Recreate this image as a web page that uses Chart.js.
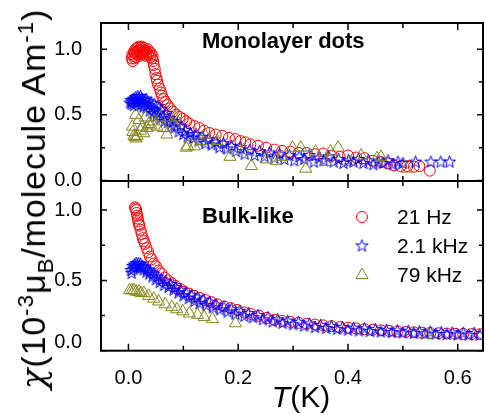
<!DOCTYPE html>
<html lang="en">
<head>
<meta charset="UTF-8">
<title>AC susceptibility</title>
<script src="https://cdn.jsdelivr.net/npm/chart.js"></script>
<style>
  body { margin: 0; width: 487px; height: 414px; overflow: hidden; position: relative; background: #fff;
         font-family: Arial, "Liberation Sans", sans-serif; }
  canvas { position: absolute; left: 0; top: 0; }
  #ytitle { position: absolute; left: 33px; top: 199px; transform: translate(-50%, -50%) rotate(-90deg);
            white-space: nowrap; font-size: 34px; line-height: 1; letter-spacing: 0.9px; }
  #xtitle { position: absolute; left: 301px; top: 397px; transform: translate(-50%, -50%);
            white-space: nowrap; font-size: 30px; line-height: 1; }
  #ytitle sup, #ytitle sub { font-size: 0.66em; line-height: 0; }
  .chi { font-family: "DejaVu Serif", serif; font-style: italic; }
</style>
</head>
<body>
<canvas id="top" width="491" height="414"></canvas>
<canvas id="bottom" width="491" height="414"></canvas>
<div id="ytitle"><span class="chi">&chi;</span>(10<sup>-3</sup>&mu;<sub>B</sub>/molecule Am<sup>-1</sup>)</div>
<div id="xtitle"><i>T</i>(K)</div>
<script>
// series: [T (K), chi]
const monoRed = [[0.006,0.93],[0.007,0.96],[0.008,0.91],[0.009,0.95],[0.010,0.98],[0.011,0.93],[0.012,0.97],[0.013,1.00],[0.014,0.94],[0.015,0.98],[0.016,1.01],[0.017,0.96],[0.018,0.99],[0.019,1.02],[0.020,0.95],[0.021,0.99],[0.022,1.01],[0.023,0.97],[0.024,1.02],[0.025,0.98],[0.026,1.00],[0.027,0.96],[0.028,1.01],[0.029,0.98],[0.030,0.99],[0.032,0.95],[0.033,0.98],[0.035,1.00],[0.036,0.96],[0.038,0.98],[0.040,0.94],[0.041,0.97],[0.043,0.93],[0.044,0.95],[0.045,0.91],[0.046,0.88],[0.048,0.85],[0.049,0.81],[0.051,0.78],[0.052,0.76],[0.054,0.73],[0.057,0.70],[0.059,0.67],[0.061,0.645],[0.064,0.62],[0.067,0.60],[0.071,0.575],[0.076,0.55],[0.081,0.525],[0.087,0.50],[0.093,0.485],[0.099,0.47],[0.105,0.45],[0.111,0.435],[0.120,0.415],[0.129,0.40],[0.138,0.38],[0.147,0.362],[0.159,0.35],[0.171,0.34],[0.183,0.325],[0.195,0.315],[0.204,0.30],[0.213,0.29],[0.222,0.275],[0.236,0.265],[0.251,0.25],[0.266,0.235],[0.280,0.225],[0.295,0.22],[0.310,0.21],[0.325,0.21],[0.340,0.20],[0.355,0.205],[0.370,0.19],[0.385,0.18],[0.400,0.19],[0.415,0.175],[0.430,0.17],[0.445,0.15],[0.460,0.14],[0.472,0.13],[0.484,0.115],[0.496,0.11],[0.508,0.11],[0.520,0.105],[0.530,0.11],[0.549,0.075]];
const monoBlue = [[0.003,0.59],[0.005,0.61],[0.006,0.58],[0.007,0.60],[0.009,0.62],[0.010,0.57],[0.011,0.60],[0.013,0.63],[0.014,0.59],[0.015,0.61],[0.017,0.64],[0.018,0.57],[0.019,0.62],[0.021,0.60],[0.022,0.64],[0.024,0.58],[0.025,0.62],[0.027,0.56],[0.028,0.61],[0.030,0.59],[0.032,0.62],[0.033,0.55],[0.035,0.60],[0.037,0.57],[0.039,0.53],[0.041,0.59],[0.043,0.55],[0.045,0.51],[0.047,0.58],[0.049,0.53],[0.051,0.49],[0.053,0.56],[0.055,0.51],[0.058,0.47],[0.060,0.54],[0.063,0.49],[0.066,0.45],[0.069,0.51],[0.072,0.44],[0.075,0.47],[0.078,0.41],[0.081,0.45],[0.084,0.40],[0.088,0.43],[0.092,0.37],[0.096,0.41],[0.100,0.35],[0.104,0.38],[0.108,0.33],[0.113,0.36],[0.118,0.32],[0.123,0.35],[0.128,0.30],[0.134,0.33],[0.140,0.28],[0.146,0.31],[0.152,0.27],[0.159,0.29],[0.166,0.25],[0.173,0.28],[0.180,0.24],[0.188,0.26],[0.196,0.22],[0.204,0.25],[0.212,0.20],[0.221,0.23],[0.230,0.19],[0.239,0.22],[0.248,0.18],[0.257,0.21],[0.266,0.17],[0.275,0.20],[0.284,0.16],[0.293,0.19],[0.302,0.15],[0.311,0.18],[0.320,0.16],[0.329,0.19],[0.338,0.14],[0.347,0.17],[0.356,0.15],[0.365,0.18],[0.374,0.14],[0.383,0.16],[0.392,0.13],[0.401,0.15],[0.410,0.14],[0.419,0.16],[0.428,0.13],[0.437,0.15],[0.446,0.12],[0.455,0.14],[0.464,0.13],[0.473,0.15],[0.482,0.12],[0.491,0.14],[0.500,0.13],[0.523,0.14],[0.551,0.14],[0.569,0.14],[0.585,0.14]];
const monoOlive = [[0.007,0.41],[0.008,0.37],[0.010,0.34],[0.012,0.33],[0.013,0.50],[0.014,0.32],[0.016,0.34],[0.019,0.46],[0.022,0.38],[0.025,0.41],[0.028,0.36],[0.031,0.48],[0.034,0.40],[0.037,0.43],[0.041,0.42],[0.046,0.45],[0.052,0.41],[0.058,0.48],[0.064,0.40],[0.070,0.35],[0.082,0.43],[0.085,0.48],[0.088,0.40],[0.105,0.25],[0.108,0.26],[0.120,0.26],[0.132,0.30],[0.139,0.35],[0.162,0.30],[0.185,0.18],[0.210,0.23],[0.224,0.11],[0.251,0.16],[0.269,0.15],[0.280,0.18],[0.299,0.25],[0.314,0.25],[0.323,0.09],[0.341,0.22],[0.359,0.14],[0.368,0.22],[0.382,0.25],[0.403,0.14],[0.424,0.19],[0.453,0.17],[0.460,0.18],[0.507,0.09]];

const bulkRed = [[0.012,1.02],[0.013,1.01],[0.014,1.00],[0.015,0.98],[0.016,0.96],[0.017,0.94],[0.018,0.92],[0.019,0.90],[0.020,0.89],[0.022,0.86],[0.024,0.83],[0.026,0.80],[0.028,0.78],[0.030,0.76],[0.033,0.73],[0.036,0.70],[0.039,0.67],[0.042,0.65],[0.046,0.62],[0.050,0.60],[0.055,0.57],[0.060,0.55],[0.066,0.52],[0.072,0.50],[0.079,0.48],[0.086,0.46],[0.094,0.44],[0.102,0.42],[0.111,0.405],[0.120,0.39],[0.130,0.375],[0.140,0.36],[0.151,0.345],[0.162,0.33],[0.174,0.315],[0.186,0.303],[0.198,0.29],[0.211,0.272],[0.224,0.26],[0.238,0.248],[0.252,0.233],[0.266,0.22],[0.280,0.212],[0.295,0.205],[0.310,0.198],[0.325,0.192],[0.340,0.186],[0.355,0.18],[0.370,0.174],[0.385,0.168],[0.400,0.163],[0.415,0.158],[0.430,0.153],[0.445,0.149],[0.460,0.145],[0.475,0.141],[0.490,0.137],[0.505,0.134],[0.520,0.131],[0.535,0.128],[0.550,0.126],[0.565,0.124],[0.580,0.122],[0.595,0.12],[0.610,0.119],[0.625,0.118],[0.640,0.117]];
const bulkBlue = [[0.005,0.57],[0.006,0.55],[0.008,0.60],[0.009,0.58],[0.011,0.61],[0.012,0.59],[0.014,0.62],[0.016,0.60],[0.018,0.62],[0.020,0.60],[0.022,0.615],[0.024,0.59],[0.026,0.60],[0.028,0.575],[0.030,0.59],[0.033,0.56],[0.035,0.575],[0.038,0.545],[0.040,0.56],[0.044,0.525],[0.046,0.545],[0.050,0.505],[0.053,0.525],[0.057,0.485],[0.060,0.505],[0.065,0.465],[0.068,0.49],[0.073,0.45],[0.077,0.47],[0.082,0.43],[0.086,0.45],[0.091,0.41],[0.095,0.43],[0.100,0.39],[0.105,0.41],[0.110,0.37],[0.115,0.39],[0.120,0.35],[0.125,0.375],[0.130,0.335],[0.136,0.36],[0.142,0.32],[0.148,0.345],[0.154,0.305],[0.160,0.325],[0.167,0.29],[0.174,0.31],[0.181,0.275],[0.188,0.295],[0.195,0.26],[0.203,0.28],[0.211,0.245],[0.219,0.265],[0.227,0.235],[0.236,0.25],[0.245,0.22],[0.254,0.235],[0.263,0.205],[0.272,0.22],[0.281,0.195],[0.290,0.21],[0.300,0.185],[0.310,0.20],[0.320,0.175],[0.330,0.19],[0.340,0.165],[0.350,0.18],[0.360,0.158],[0.370,0.172],[0.380,0.152],[0.390,0.165],[0.400,0.146],[0.410,0.16],[0.420,0.141],[0.430,0.155],[0.440,0.137],[0.450,0.15],[0.460,0.133],[0.470,0.145],[0.480,0.129],[0.490,0.141],[0.500,0.126],[0.510,0.138],[0.520,0.123],[0.530,0.135],[0.540,0.12],[0.550,0.132],[0.560,0.117],[0.570,0.129],[0.580,0.115],[0.590,0.127],[0.600,0.113],[0.610,0.125],[0.620,0.111],[0.630,0.123],[0.640,0.11]];
const bulkOlive = [[0.002,0.43],[0.006,0.43],[0.010,0.43],[0.014,0.42],[0.019,0.42],[0.023,0.41],[0.028,0.41],[0.037,0.39],[0.046,0.37],[0.055,0.35],[0.067,0.33],[0.079,0.31],[0.088,0.295],[0.099,0.28],[0.111,0.265],[0.126,0.255],[0.138,0.24],[0.153,0.225],[0.195,0.195],[0.546,0.115]];

const seriesNames = ['21 Hz', '2.1 kHz', '79 kHz'];
const panelNames = ['Monolayer dots', 'Bulk-like'];
const xTicks = [0, 0.1, 0.2, 0.3, 0.4, 0.5, 0.6];
const xLabelled = [0, 0.2, 0.4, 0.6];
const yTicks = [0, 0.25, 0.5, 0.75, 1.0];
const yLabelled = [0, 0.5, 1.0];

const FONT = 'Arial, "Liberation Sans", sans-serif';
const RED = '#ff0000', BLUE = '#0000ff', OLIVE = '#86861a';

// 5-point open star, Origin style
function makeStar() {
    const c = document.createElement('canvas');
    c.width = 15; c.height = 15;
    const g = c.getContext('2d');
    g.strokeStyle = BLUE;
    g.lineWidth = 1;
    g.beginPath();
    for (let i = 0; i < 10; i++) {
        const r = i % 2 ? 2.6 : 6.4;
        const a = -Math.PI / 2 + i * Math.PI / 5;
        const px = 7.5 + r * Math.cos(a), py = 7.5 + r * Math.sin(a);
        if (i === 0) g.moveTo(px, py); else g.lineTo(px, py);
    }
    g.closePath();
    g.stroke();
    return c;
}
const star = makeStar();

function toXY(arr) { return arr.map(p => ({ x: p[0], y: p[1] })); }

function drawSymbol(ctx, kind, x, y) {
    ctx.lineWidth = 1;
    if (kind === 0) {
        ctx.strokeStyle = RED;
        ctx.beginPath(); ctx.arc(x, y, 5.5, 0, Math.PI * 2); ctx.stroke();
    } else if (kind === 1) {
        ctx.drawImage(star, x - 7.5, y - 7.5);
    } else {
        ctx.strokeStyle = OLIVE;
        const r = 7;
        ctx.beginPath();
        ctx.moveTo(x, y - r);
        ctx.lineTo(x + r * 0.866, y + r / 2);
        ctx.lineTo(x - r * 0.866, y + r / 2);
        ctx.closePath(); ctx.stroke();
    }
}

const framePlugin = {
    id: 'frame',
    afterDraw(chart, args, opts) {
        const { ctx, chartArea: a } = chart;
        const x = chart.scales.x, y = chart.scales.y;
        ctx.save();
        ctx.strokeStyle = '#000';
        ctx.lineWidth = 2;
        ctx.strokeRect(a.left, a.top, a.right - a.left, a.bottom - a.top);
        ctx.lineWidth = 1.5;
        ctx.beginPath();
        xTicks.forEach(v => {
            const px = x.getPixelForValue(v);
            const len = xLabelled.includes(v) ? 7 : 5;
            ctx.moveTo(px, a.bottom); ctx.lineTo(px, a.bottom - len);
            ctx.moveTo(px, a.top); ctx.lineTo(px, a.top + len);
        });
        yTicks.forEach(v => {
            const py = y.getPixelForValue(v);
            const len = yLabelled.includes(v) ? 6 : 4;
            ctx.moveTo(a.left, py); ctx.lineTo(a.left + len, py);
            ctx.moveTo(a.right, py); ctx.lineTo(a.right - len, py);
        });
        ctx.stroke();

        ctx.fillStyle = '#000';
        ctx.textBaseline = 'middle';
        ctx.textAlign = 'left';
        ctx.font = 'bold 22px ' + FONT;
        ctx.fillText(opts.title, 202, opts.titleY);

        if (opts.legend) {
            ctx.font = '21px ' + FONT;
            seriesNames.forEach((name, i) => {
                const ly = 217 + i * 29;
                drawSymbol(ctx, i, 362, ly);
                ctx.fillStyle = '#000';
                ctx.fillText(name, 397, ly + 1);
            });
        }
        ctx.restore();
    }
};

function makeChart(id, red, blue, olive, panel) {
    const isBottom = panel === 1;
    return new Chart(document.getElementById(id), {
        type: 'scatter',
        data: {
            datasets: [
                { label: seriesNames[0], data: toXY(red), order: 3, pointStyle: 'circle', pointRadius: 5.5,
                  borderColor: RED, backgroundColor: 'rgba(0,0,0,0)', borderWidth: 1 },
                { label: seriesNames[1], data: toXY(blue), order: 2, pointStyle: star, pointRadius: 6,
                  borderColor: BLUE, backgroundColor: 'rgba(0,0,0,0)', borderWidth: 1 },
                { label: seriesNames[2], data: toXY(olive), order: 1, pointStyle: 'triangle', pointRadius: 7,
                  borderColor: OLIVE, backgroundColor: 'rgba(0,0,0,0)', borderWidth: 1 }
            ]
        },
        options: {
            responsive: false,
            animation: false,
            events: [],
            layout: { padding: isBottom ? { top: 181, left: 0, right: 0, bottom: 0 }
                                        : { top: 13, left: 0, right: 0, bottom: 233 } },
            scales: {
                x: {
                    type: 'linear', min: -0.05, max: 0.646,
                    display: isBottom,
                    grid: { display: false }, border: { display: false },
                    afterBuildTicks: s => { s.ticks = xLabelled.map(v => ({ value: v })); },
                    afterFit: s => { s.height = isBottom ? 63.3 : 0; },
                    ticks: { color: '#000', padding: 8, font: { family: FONT, size: 20 },
                             callback: v => v.toFixed(1) }
                },
                y: {
                    type: 'linear', min: isBottom ? 0 : -0.004, max: isBottom ? 1.207 : 1.2,
                    grid: { display: false }, border: { display: false },
                    afterBuildTicks: s => { s.ticks = yLabelled.map(v => ({ value: v })); },
                    afterFit: s => { s.width = 101; },
                    ticks: {
                        color: '#000', padding: 11,
                        // lower panel's 0.0 sits a little above its tick, as in the original
                        font: c => ({ family: FONT, size: 20,
                                      lineHeight: (isBottom && c.tick && c.tick.value === 0) ? 0.8 : 1.2 }),
                        callback: v => (isBottom && v === 0) ? ['0.0', ''] : v.toFixed(1)
                    }
                }
            },
            plugins: {
                legend: { display: false },
                tooltip: { enabled: false },
                frame: { title: panelNames[panel], titleY: isBottom ? 217 : 42, legend: isBottom }
            }
        },
        plugins: [framePlugin]
    });
}

makeChart('top', monoRed, monoBlue, monoOlive, 0);
makeChart('bottom', bulkRed, bulkBlue, bulkOlive, 1);
</script>
</body>
</html>
